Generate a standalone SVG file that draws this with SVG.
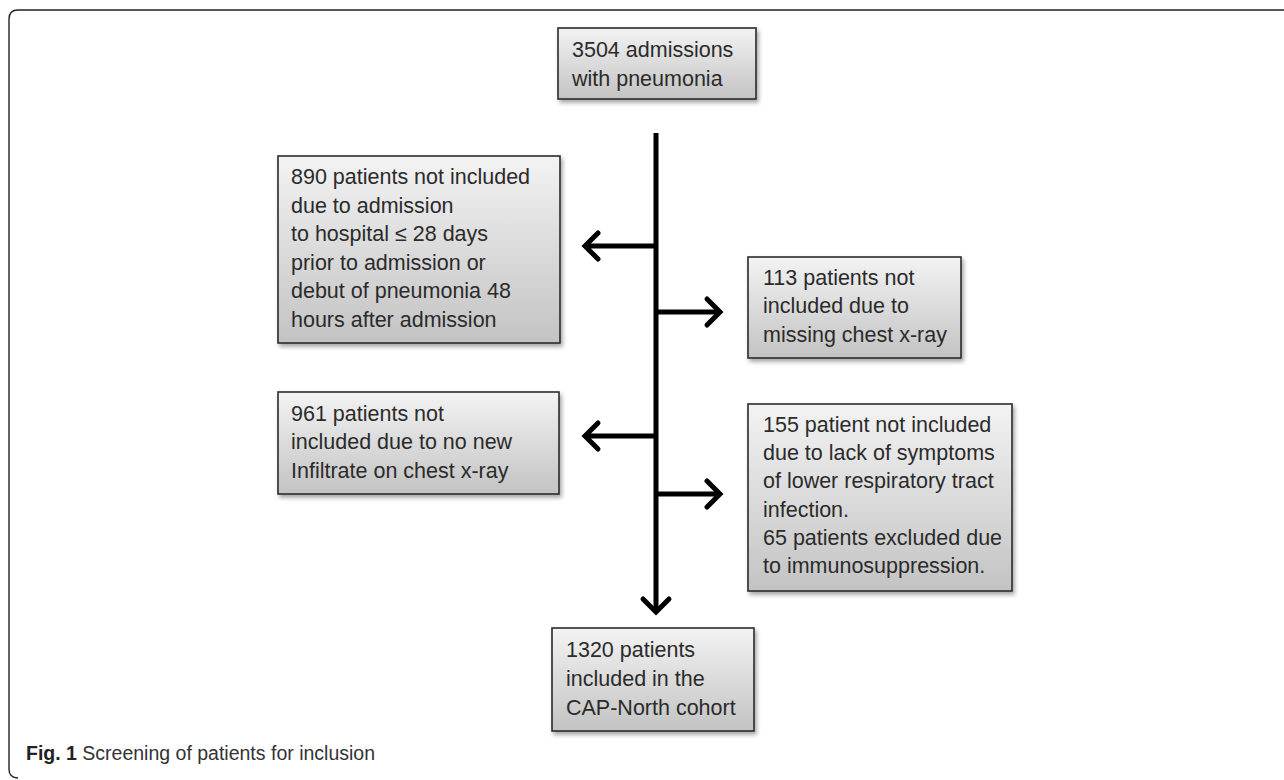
<svg xmlns="http://www.w3.org/2000/svg" width="1284" height="780" viewBox="0 0 1284 780">
<style>
.box{fill:url(#g);stroke:#2a2a2a;stroke-width:1.6;filter:url(#sh)}
.t{font-family:"Liberation Sans",Arial,sans-serif;font-size:21.5px;fill:#2b2b2b}
.ln{stroke:#000;stroke-width:5;fill:none}
.cap{font-family:"Liberation Sans",Arial,sans-serif;font-size:19.5px;fill:#333}
</style>
<defs>
<linearGradient id="g" x1="0" y1="0" x2="0" y2="1">
<stop offset="0" stop-color="#f3f3f3"/>
<stop offset="1" stop-color="#c3c3c3"/>
</linearGradient>
<filter id="sh" x="-10%" y="-10%" width="130%" height="130%">
<feDropShadow dx="2" dy="3" stdDeviation="2" flood-color="#000" flood-opacity="0.35"/>
</filter>
<marker id="ah" markerUnits="userSpaceOnUse" markerWidth="40" markerHeight="40" viewBox="-20 -20 40 40" refX="0" refY="0" orient="auto" overflow="visible">
<path d="M-13,-13 L0,0 L-13,13" fill="none" stroke="#000" stroke-width="5" stroke-linecap="round" stroke-linejoin="miter"/>
</marker>
</defs>
<rect width="1284" height="780" fill="#fff"/>
<path d="M1290,10 H18 Q9,10 9,19 V769 Q9,778 18,778" fill="none" stroke="#222" stroke-width="1.4"/>

<g id="connectors">
<line class="ln" x1="656" y1="133" x2="656" y2="612" marker-end="url(#ah)"/>
<line class="ln" x1="656" y1="246" x2="585" y2="246" marker-end="url(#ah)"/>
<line class="ln" x1="656" y1="312" x2="720" y2="312" marker-end="url(#ah)"/>
<line class="ln" x1="656" y1="436" x2="585" y2="436" marker-end="url(#ah)"/>
<line class="ln" x1="656" y1="494" x2="720" y2="494" marker-end="url(#ah)"/>
</g>

<g id="n-start">
<rect class="box" x="558" y="28" width="198" height="71"/>
<text class="t" x="572" y="57">3504 admissions</text>
<text class="t" x="572" y="86">with pneumonia</text>
</g>

<g id="n-890">
<rect class="box" x="278" y="156" width="282" height="187"/>
<text class="t" x="291" y="184">890 patients not included</text>
<text class="t" x="291" y="212.5">due to admission</text>
<text class="t" x="291" y="241">to hospital ≤ 28 days</text>
<text class="t" x="291" y="270">prior to admission or</text>
<text class="t" x="291" y="298">debut of pneumonia 48</text>
<text class="t" x="291" y="327">hours after admission</text>
</g>

<g id="n-113">
<rect class="box" x="748" y="257" width="213" height="101"/>
<text class="t" x="763" y="285">113 patients not</text>
<text class="t" x="763" y="313">included due to</text>
<text class="t" x="763" y="342">missing chest x-ray</text>
</g>

<g id="n-961">
<rect class="box" x="278" y="392" width="281" height="102"/>
<text class="t" x="291" y="421">961 patients not</text>
<text class="t" x="291" y="449">included due to no new</text>
<text class="t" x="291" y="478">Infiltrate on chest x-ray</text>
</g>

<g id="n-155">
<rect class="box" x="748" y="404" width="264" height="187"/>
<text class="t" x="763" y="432">155 patient not included</text>
<text class="t" x="763" y="460">due to lack of symptoms</text>
<text class="t" x="763" y="488">of lower respiratory tract</text>
<text class="t" x="763" y="517">infection.</text>
<text class="t" x="763" y="545">65 patients excluded due</text>
<text class="t" x="763" y="573">to immunosuppression.</text>
</g>

<g id="n-end">
<rect class="box" x="552" y="628" width="202" height="103"/>
<text class="t" x="566" y="657">1320 patients</text>
<text class="t" x="566" y="686">included in the</text>
<text class="t" x="566" y="715">CAP-North cohort</text>
</g>

<text class="cap" x="26" y="760"><tspan font-weight="bold" fill="#222">Fig. 1</tspan> Screening of patients for inclusion</text>
</svg>
